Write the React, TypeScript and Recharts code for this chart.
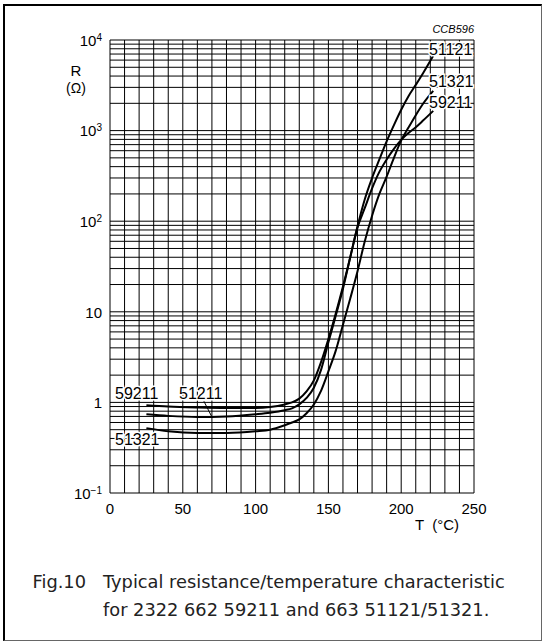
import { LineChart, Line, XAxis, YAxis, CartesianGrid, ReferenceLine } from "recharts";

// temperatures (°C) shared by the three curves
const TEMPS = [25, 40, 60, 80, 100, 110, 120, 125, 130, 135, 140, 145, 150, 155, 160, 165, 170, 175, 180, 185, 190, 195, 200, 205, 210, 215, 222];

// resistance (Ω)
const R_59211 = [0.93, 0.9, 0.88, 0.87, 0.87, 0.89, 0.95, 1.0, 1.1, 1.32, 1.75, 2.8, 5.0, 9.5, 19, 40, 85, 140, 230, 350, 480, 630, 790, 940, 1090, 1290, 1650];
const R_51121 = [0.74, 0.71, 0.69, 0.7, 0.74, 0.77, 0.82, 0.86, 0.95, 1.12, 1.45, 2.3, 4.6, 9.0, 18, 40, 88, 175, 300, 480, 760, 1150, 1700, 2400, 3200, 4300, 6700];
const R_51321 = [0.52, 0.48, 0.46, 0.46, 0.48, 0.5, 0.56, 0.6, 0.65, 0.76, 0.95, 1.35, 2.2, 3.7, 7.2, 14, 28, 60, 115, 200, 310, 500, 780, 1080, 1480, 1980, 2750];

// grid / tick values
const X_GRID = [0, 10, 20, 30, 40, 50, 60, 70, 80, 90, 100, 110, 120, 130, 140, 150, 160, 170, 180, 190, 200, 210, 220, 230, 240, 250];
const X_LABELS = [0, 50, 100, 150, 200, 250];
const DECADES = [0.1, 1, 10, 100, 1000];
const MULTS = [1, 2, 3, 4, 5, 6, 7, 8, 9];
const Y_TOP = 10000;
const Y_GRID = [...DECADES.flatMap((d) => MULTS.map((m) => d * m)), Y_TOP];
const Y_LABELS: Record<string, [string, string]> = {
  "0.1": ["10", "\u22121"],
  "1": ["1", ""],
  "10": ["10", ""],
  "100": ["10", "2"],
  "1000": ["10", "3"],
  "10000": ["10", "4"],
};

// leader line from the "51211" note to its curve
const LEADER = [
  { x: 64.5, y: 1.03 },
  { x: 70, y: 0.69 },
];

const rows = (vals: number[]) => TEMPS.map((t, i) => ({ t, r: vals[i] }));

const AXIS_FONT = "'Liberation Sans', Arial, sans-serif";
const CAPTION_FONT = "'DejaVu Sans', sans-serif";

function XTick({ x, y, payload }: any) {
  if (!X_LABELS.includes(payload.value)) return <g />;
  return (
    <text x={x} y={y} dy="0.71em" textAnchor="middle" fontSize={15} fontFamily={AXIS_FONT} fill="#000">
      {payload.value}
    </text>
  );
}

function YTick({ x, y, payload }: any) {
  const key = String(Math.round(payload.value * 10) / 10);
  const lab = Y_LABELS[key];
  const isDecade = Math.abs(Math.log10(payload.value) - Math.round(Math.log10(payload.value))) < 1e-6;
  if (!lab || !isDecade) return <g />;
  return (
    <text x={x} y={y} dy="0.38em" textAnchor="end" fontSize={15} fontFamily={AXIS_FONT} fill="#000">
      {lab[0]}
      {lab[1] && (
        <tspan dy="-0.5em" fontSize={10}>
          {lab[1]}
        </tspan>
      )}
    </text>
  );
}

function Note({ x, y, children, size = 16 }: any) {
  return (
    <text
      x={x}
      y={y}
      fontSize={size}
      fontFamily={AXIS_FONT}
      fill="#000"
      stroke="#fff"
      strokeWidth={3}
      paintOrder="stroke"
    >
      {children}
    </text>
  );
}

export default function App() {
  return (
    <div style={{ position: "absolute", left: 0, top: 0, width: 545, height: 643, background: "#fff" }}>
      {/* frame */}
      <div
        style={{
          position: "absolute",
          left: 3,
          top: 4,
          width: 539,
          height: 637,
          boxSizing: "border-box",
          borderTop: "2px solid #000",
          borderLeft: "2px solid #000",
          borderRight: "1px solid #666",
          borderBottom: "1px solid #666",
        }}
      />

      <div style={{ position: "absolute", left: 0, top: 0 }}>
        <LineChart width={545} height={643} margin={{ top: 40, right: 71, left: 50, bottom: 120 }}>
          <CartesianGrid stroke="#000" strokeWidth={1} />
          <XAxis
            dataKey="t"
            type="number"
            domain={[0, 250]}
            ticks={X_GRID}
            interval={0}
            axisLine={false}
            tickLine={false}
            tickSize={0}
            tickMargin={10}
            height={30}
            tick={<XTick />}
          />
          <YAxis
            type="number"
            scale="log"
            domain={[0.1, Y_TOP]}
            ticks={Y_GRID}
            interval={0}
            allowDataOverflow
            axisLine={false}
            tickLine={false}
            tickSize={0}
            tickMargin={8}
            width={60}
            tick={<YTick />}
          />
          <ReferenceLine segment={LEADER} stroke="#000" strokeWidth={1} ifOverflow="visible" />
          <Line data={rows(R_59211)} dataKey="r" type="monotone" stroke="#000" strokeWidth={2} dot={false} isAnimationActive={false} />
          <Line data={rows(R_51121)} dataKey="r" type="monotone" stroke="#000" strokeWidth={2} dot={false} isAnimationActive={false} />
          <Line data={rows(R_51321)} dataKey="r" type="monotone" stroke="#000" strokeWidth={2} dot={false} isAnimationActive={false} />
        </LineChart>
      </div>

      {/* labels & caption */}
      <svg width={545} height={643} style={{ position: "absolute", left: 0, top: 0, pointerEvents: "none" }}>
        <text x={474} y={33} textAnchor="end" fontSize={11} fontStyle="italic" fontFamily={AXIS_FONT} fill="#000">
          CCB596
        </text>
        <text x={76} y={76} textAnchor="middle" fontSize={15} fontFamily={AXIS_FONT} fill="#000">
          R
        </text>
        <text x={76} y={93} textAnchor="middle" fontSize={14} fontFamily={AXIS_FONT} fill="#000">
          (Ω)
        </text>
        <text x={415} y={530} fontSize={15} fontFamily={AXIS_FONT} fill="#000" xmlSpace="preserve">
          T  (°C)
        </text>

        <Note x={429} y={55}>51121</Note>
        <Note x={429} y={87}>51321</Note>
        <Note x={429} y={108}>59211</Note>
        <Note x={115} y={399}>59211</Note>
        <Note x={179} y={399}>51211</Note>
        <Note x={115} y={445}>51321</Note>

        <text x={86} y={588} textAnchor="end" fontSize={17.8} fontFamily={CAPTION_FONT} fill="#222">
          Fig.10
        </text>
        <text x={103} y={588} fontSize={17.8} fontFamily={CAPTION_FONT} fill="#222">
          Typical resistance/temperature characteristic
        </text>
        <text x={103} y={616} fontSize={17.8} fontFamily={CAPTION_FONT} fill="#222">
          for 2322 662 59211 and 663 51121/51321.
        </text>
      </svg>
    </div>
  );
}
